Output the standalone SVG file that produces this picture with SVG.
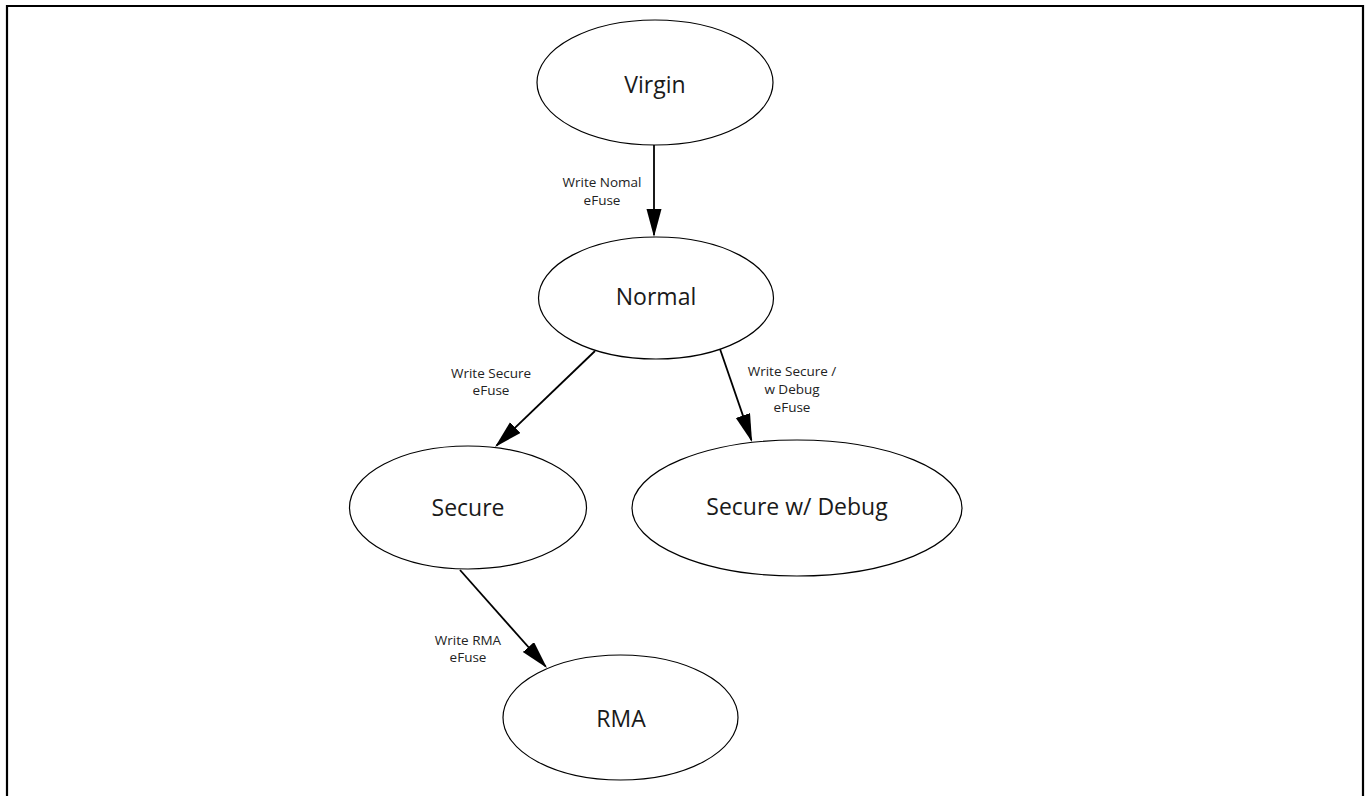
<svg xmlns="http://www.w3.org/2000/svg" width="1367" height="796" viewBox="0 0 1367 796">
  <style>
    .node ellipse { fill: #ffffff; stroke: #000000; stroke-width: 1.2; }
    .node text { font-family: "Open Sans", "Noto Sans", sans-serif; font-size: 23px; fill: #1a1a1a; text-anchor: middle; }
    .edge { stroke: #000000; stroke-width: 1.8; fill: none; marker-end: url(#arrow); }
    .elabel { font-family: "Open Sans", "Noto Sans", sans-serif; font-size: 13.5px; fill: #222222; text-anchor: middle; }
    .frame { fill: none; stroke: #000000; stroke-width: 2.2; }
  </style>
  <defs>
    <marker id="arrow" markerUnits="userSpaceOnUse" markerWidth="30" markerHeight="18" viewBox="0 0 30 18" refX="26" refY="7.5" orient="auto">
      <path d="M0,0 L28,7.5 L0,15 Z" fill="#000000"/>
    </marker>
  </defs>

  <rect width="1367" height="796" fill="#ffffff"/>
  <!-- outer frame, open at the bottom -->
  <path class="frame" d="M7,800 V6 H1363 V800"/>

  <g id="connectors">
    <line class="edge" x1="654" y1="145" x2="654" y2="235"/>
    <line class="edge" x1="595" y1="351" x2="496.5" y2="445.6"/>
    <line class="edge" x1="720" y1="349" x2="751.4" y2="440.1"/>
    <line class="edge" x1="460" y1="570" x2="545.7" y2="666.5"/>
    <text class="elabel" x="602" y="187">Write Nomal</text>
    <text class="elabel" x="602" y="205">eFuse</text>
    <text class="elabel" x="491" y="378">Write Secure</text>
    <text class="elabel" x="491" y="395">eFuse</text>
    <text class="elabel" x="792" y="376">Write Secure /</text>
    <text class="elabel" x="792" y="394">w Debug</text>
    <text class="elabel" x="792" y="412">eFuse</text>
    <text class="elabel" x="468" y="645">Write RMA</text>
    <text class="elabel" x="468" y="662">eFuse</text>
  </g>

  <g id="virgin" class="node">
    <ellipse cx="655" cy="82.5" rx="118" ry="62.5"/>
    <text x="655" y="93">Virgin</text>
  </g>
  <g id="normal" class="node">
    <ellipse cx="656" cy="298" rx="117.5" ry="61"/>
    <text x="656" y="305">Normal</text>
  </g>
  <g id="secure" class="node">
    <ellipse cx="468" cy="507.5" rx="118.5" ry="61.5"/>
    <text x="468" y="516">Secure</text>
  </g>
  <g id="secure-debug" class="node">
    <ellipse cx="797" cy="508" rx="165" ry="68"/>
    <text x="797" y="515">Secure w/ Debug</text>
  </g>
  <g id="rma" class="node">
    <ellipse cx="620.5" cy="717.5" rx="117.5" ry="62.5"/>
    <text x="621" y="727">RMA</text>
  </g>
</svg>
